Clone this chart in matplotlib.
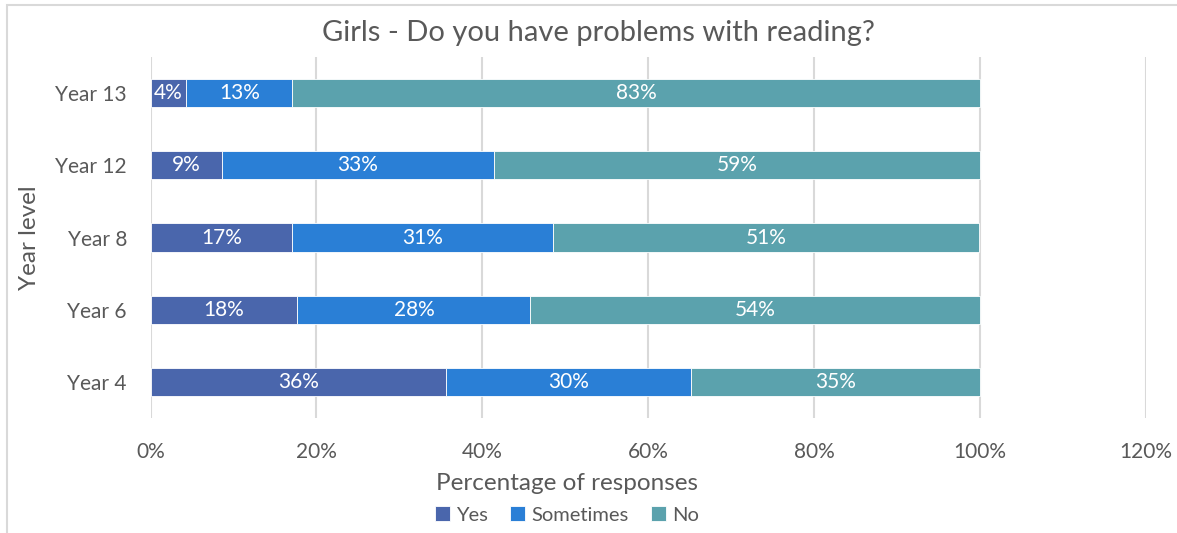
import matplotlib
matplotlib.use("Agg")
import matplotlib.pyplot as plt
from matplotlib.patches import Rectangle

categories = ["Year 4", "Year 6", "Year 8", "Year 12", "Year 13"]
series_names = ["Yes", "Sometimes", "No"]
yes_vals = [35.6, 17.7, 17.1, 8.6, 4.3]
sometimes_vals = [29.6, 28.1, 31.4, 32.8, 12.8]
no_vals = [34.8, 54.2, 51.4, 58.6, 82.9]
xticks = [0, 20, 40, 60, 80, 100, 120]
xtick_labels = ["0%", "20%", "40%", "60%", "80%", "100%", "120%"]

colors = ["#4A66AC", "#2A7FD6", "#5BA2AD"]
text_col = "#595959"
grid_col = "#D9D9D9"

plt.rcParams['font.family'] = ['Lato', 'DejaVu Sans']

W, H = 1177, 533
fig = plt.figure(figsize=(W / 100, H / 100), dpi=100)
ax_l, ax_r, ax_t, ax_b = 150.5, 1146, 57, 418
ax = fig.add_axes([ax_l / W, 1 - ax_b / H, (ax_r - ax_l) / W, (ax_b - ax_t) / H])

# chart border (top and left visible)
fig.patches.append(Rectangle((7 / W, -0.05), 1.2, (533 - 5) / H + 0.05,
                             transform=fig.transFigure, fill=False,
                             edgecolor="#D9D9D9", linewidth=1.5))

ypos = list(range(len(categories)))
left = [0] * len(categories)
for name, vals, c in zip(series_names, [yes_vals, sometimes_vals, no_vals], colors):
    bars = ax.barh(ypos, vals, left=left, height=0.39, color=c,
                   edgecolor="white", linewidth=0.6, label=name, zorder=3)
    for b, v in zip(bars, vals):
        ax.text(b.get_x() + b.get_width() / 2, b.get_y() + b.get_height() / 2,
                f"{v:.0f}%", ha="center", va="center", color="white",
                fontsize=15, zorder=4)
    left = [l + v for l, v in zip(left, vals)]

ax.set_xlim(0, 120)
ax.set_ylim(-0.5, 4.5)
ax.set_xticks(xticks)
ax.set_xticklabels(xtick_labels)
ax.set_yticks(ypos)
ax.set_yticklabels(categories)
ax.tick_params(axis="both", length=0, labelsize=15, colors=text_col)
ax.tick_params(axis="x", pad=17)
ax.tick_params(axis="y", pad=17)
ax.xaxis.grid(True, color=grid_col, linewidth=1.5, zorder=0)
for s in ax.spines.values():
    s.set_visible(False)

ax.set_xlabel("Percentage of responses", fontsize=17.5, color=text_col)
ax.xaxis.set_label_coords((567 - ax_l) / (ax_r - ax_l), -(483 - ax_b) / (ax_b - ax_t))
ax.xaxis.label.set_va("center")
ax.set_ylabel("Year level", fontsize=17.5, color=text_col)
ax.yaxis.set_label_coords(-(ax_l - 30) / (ax_r - ax_l), 0.5)
ax.yaxis.label.set_va("center")

fig.text(598 / W, 1 - 33 / H, "Girls - Do you have problems with reading?",
         fontsize=21, color=text_col, ha="center", va="center")

leg = fig.legend(loc="center", bbox_to_anchor=(567 / W, 1 - 515 / H), ncol=3,
                 frameon=False, fontsize=14.5, handlelength=0.75, handleheight=0.75,
                 handletextpad=0.3, columnspacing=1.1, labelcolor=text_col,
                 borderpad=0, borderaxespad=0)

fig.savefig("out.png", dpi=100)
